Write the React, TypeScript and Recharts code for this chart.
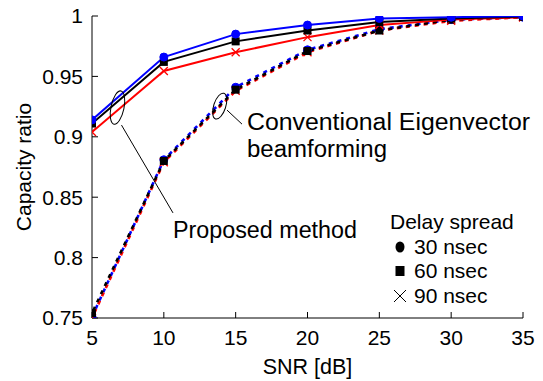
import React from 'react';
import { LineChart, Line, XAxis, YAxis, ReferenceDot, ReferenceLine, Legend } from 'recharts';

const FONT = '"Liberation Sans", Arial, Helvetica, sans-serif';

// ---- data ----
const snr = [5, 10, 15, 20, 25, 30, 35];
const proposed30 = [0.914, 0.966, 0.985, 0.9925, 0.998, 0.999, 1.0];
const proposed60 = [0.911, 0.962, 0.979, 0.988, 0.995, 0.998, 0.9995];
const proposed90 = [0.904, 0.9545, 0.970, 0.9825, 0.9925, 0.997, 0.999];
const conventional30 = [0.751, 0.881, 0.941, 0.972, 0.989, 0.997, 0.999];
const conventional60 = [0.754, 0.880, 0.939, 0.971, 0.988, 0.997, 0.9995];
const conventional90 = [0.750, 0.879, 0.938, 0.970, 0.988, 0.996, 0.999];
const xTicks = [5, 10, 15, 20, 25, 30, 35];
const yTicks = [0.75, 0.8, 0.85, 0.9, 0.95, 1];
const legendTitle = 'Delay spread';
const legendLabels = ['30 nsec', '60 nsec', '90 nsec'];
const xLabel = 'SNR [dB]';
const yLabel = 'Capacity ratio';
const proposedText = 'Proposed method';
const conventionalText = ['Conventional Eigenvector', 'beamforming'];

const data = snr.map((s, i) => ({
  snr: s,
  p30: proposed30[i],
  p60: proposed60[i],
  p90: proposed90[i],
  c30: conventional30[i],
  c60: conventional60[i],
  c90: conventional90[i],
}));

const BLUE = '#0000ff';
const RED = '#ff0000';
const BLACK = '#000000';

const circleDot = (color: string) => (props: any) => {
  const { cx, cy, index } = props;
  if (cx == null || cy == null) return <g key={`c${index}`} />;
  return <circle key={`c${index}`} cx={cx} cy={cy} r={4} fill={color} stroke={color} strokeWidth={1} />;
};
const squareDot = (props: any) => {
  const { cx, cy, index } = props;
  if (cx == null || cy == null) return <g key={`s${index}`} />;
  return <rect key={`s${index}`} x={cx - 4} y={cy - 4} width={8} height={8} fill={BLACK} />;
};
const crossDot = (props: any) => {
  const { cx, cy, index } = props;
  if (cx == null || cy == null) return <g key={`x${index}`} />;
  return (
    <path
      key={`x${index}`}
      d={`M${cx - 4},${cy - 4}L${cx + 4},${cy + 4}M${cx - 4},${cy + 4}L${cx + 4},${cy - 4}`}
      stroke={RED}
      strokeWidth={1.3}
      fill="none"
    />
  );
};

const LegendBox = () => (
  <div style={{ fontFamily: FONT, fontSize: 21, lineHeight: '24.5px', color: '#000', whiteSpace: 'nowrap' }}>
    <div>{legendTitle}</div>
    {legendLabels.map((lab, i) => (
      <div key={lab} style={{ display: 'flex', alignItems: 'center', height: 24.5 }}>
        <svg width={20} height={24} style={{ display: 'block' }}>
          {i === 0 && <ellipse cx={10} cy={12} rx={4.5} ry={5.5} fill="#000" />}
          {i === 1 && <rect x={5.5} y={7} width={9} height={10} fill="#000" />}
          {i === 2 && <path d="M4,6L16,18M4,18L16,6" stroke="#000" strokeWidth={1} fill="none" />}
        </svg>
        <span style={{ marginLeft: 4 }}>{lab}</span>
      </div>
    ))}
  </div>
);

const tickStyle = { fill: '#000', fontSize: 21, fontFamily: FONT };

export default function App() {
  return (
    <div style={{ position: 'absolute', left: 0, top: 0, background: '#fff' }}>
      <LineChart width={543} height={381} data={data} margin={{ top: 16, right: 20, bottom: 0, left: 0 }}>
        <XAxis
          dataKey="snr"
          type="number"
          domain={[5, 35]}
          allowDataOverflow
          ticks={xTicks}
          interval={0}
          height={63}
          tickSize={-6}
          tickMargin={18}
          axisLine={{ stroke: '#000' }}
          tickLine={{ stroke: '#000' }}
          tick={tickStyle}
          label={{ value: xLabel, position: 'insideBottom', offset: 7, fill: '#000', fontSize: 21.5, fontFamily: FONT }}
        />
        <XAxis
          xAxisId="top"
          orientation="top"
          type="number"
          domain={[5, 35]}
          allowDataOverflow
          ticks={xTicks}
          interval={0}
          height={0}
          tickSize={-6}
          tick={false}
          axisLine={{ stroke: '#000' }}
          tickLine={{ stroke: '#000' }}
        />
        <YAxis
          type="number"
          domain={[0.75, 1]}
          allowDataOverflow
          ticks={yTicks}
          interval={0}
          width={92}
          tickSize={-6}
          tickMargin={15}
          axisLine={{ stroke: '#000' }}
          tickLine={{ stroke: '#000' }}
          tick={tickStyle}
          label={{
            value: yLabel,
            angle: -90,
            position: 'insideLeft',
            offset: 24,
            fill: '#000',
            fontSize: 21,
            fontFamily: FONT,
            style: { textAnchor: 'middle' },
          }}
        />
        <YAxis
          yAxisId="right"
          orientation="right"
          type="number"
          domain={[0.75, 1]}
          allowDataOverflow
          ticks={yTicks}
          interval={0}
          width={0}
          tickSize={-6}
          tick={false}
          axisLine={{ stroke: '#000' }}
          tickLine={{ stroke: '#000' }}
        />

        {/* conventional (dashed, overlapping) */}
        <Line type="linear" dataKey="c30" stroke={BLUE} strokeWidth={2.6} strokeDasharray="4 5" strokeDashoffset={0} dot={circleDot(BLUE)} activeDot={false} isAnimationActive={false} />
        <Line type="linear" dataKey="c90" stroke={RED} strokeWidth={2.6} strokeDasharray="4 5" strokeDashoffset={3} dot={crossDot} activeDot={false} isAnimationActive={false} />
        <Line type="linear" dataKey="c60" stroke={BLACK} strokeWidth={2.6} strokeDasharray="4 5" strokeDashoffset={6} dot={squareDot} activeDot={false} isAnimationActive={false} />

        {/* proposed (solid) */}
        <Line type="linear" dataKey="p90" stroke={RED} strokeWidth={2} dot={crossDot} activeDot={false} isAnimationActive={false} />
        <Line type="linear" dataKey="p60" stroke={BLACK} strokeWidth={2} dot={squareDot} activeDot={false} isAnimationActive={false} />
        <Line type="linear" dataKey="p30" stroke={BLUE} strokeWidth={2} dot={circleDot(BLUE)} activeDot={false} isAnimationActive={false} />

        {/* annotations */}
        <ReferenceDot
          x={6.775}
          y={0.9242}
          r={0}
          ifOverflow="visible"
          shape={(p: any) => (
            <ellipse cx={p.cx} cy={p.cy} rx={6.5} ry={17} fill="none" stroke="#000" strokeWidth={1} transform={`rotate(12 ${p.cx} ${p.cy})`} />
          )}
        />
        <ReferenceLine segment={[{ x: 7.053, y: 0.9097 }, { x: 10.638, y: 0.837 }]} stroke="#000" strokeWidth={1} ifOverflow="visible" />
        <ReferenceDot
          x={10.638}
          y={0.8164}
          r={0}
          ifOverflow="visible"
          shape={(p: any) => (
            <text x={p.cx} y={p.cy} fontSize={23} fontFamily={FONT} fill="#000" textLength={184} lengthAdjust="spacingAndGlyphs">
              {proposedText}
            </text>
          )}
        />
        <ReferenceDot
          x={13.889}
          y={0.9254}
          r={0}
          ifOverflow="visible"
          shape={(p: any) => (
            <ellipse cx={p.cx} cy={p.cy} rx={6} ry={13.5} fill="none" stroke="#000" strokeWidth={1} transform={`rotate(18 ${p.cx} ${p.cy})`} />
          )}
        />
        <ReferenceLine segment={[{ x: 14.397, y: 0.9221 }, { x: 15.44, y: 0.9105 }]} stroke="#000" strokeWidth={1} ifOverflow="visible" />
        <ReferenceDot
          x={15.788}
          y={0.9056}
          r={0}
          ifOverflow="visible"
          shape={(p: any) => (
            <g>
              <text x={p.cx} y={p.cy} fontSize={23} fontFamily={FONT} fill="#000" textLength={283} lengthAdjust="spacingAndGlyphs">
                {conventionalText[0]}
              </text>
              <text x={p.cx} y={p.cy + 27} fontSize={23} fontFamily={FONT} fill="#000" textLength={140} lengthAdjust="spacingAndGlyphs">
                {conventionalText[1]}
              </text>
            </g>
          )}
        />

        <Legend
          verticalAlign="middle"
          align="center"
          layout="horizontal"
          wrapperStyle={{ left: 390, top: 210, width: 140, height: 100 }}
          content={() => <LegendBox />}
        />
      </LineChart>
    </div>
  );
}
